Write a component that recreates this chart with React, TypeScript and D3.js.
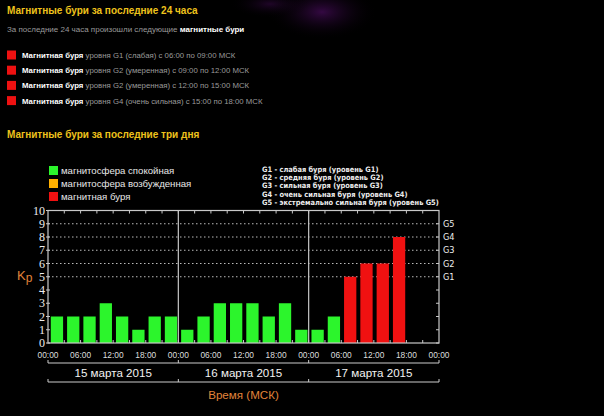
import React from "react";
import * as d3 from "d3";

const dayLabels = ["15 марта 2015", "16 марта 2015", "17 марта 2015"];
const kpValues = [2, 2, 2, 3, 2, 1, 2, 2, 1, 2, 3, 3, 3, 2, 3, 1, 1, 2, 5, 6, 6, 8];
const hourLabels = ["00:00", "06:00", "12:00", "18:00"];
const yTicks = [0, 1, 2, 3, 4, 5, 6, 7, 8, 9, 10];
const gLevels = ["G1", "G2", "G3", "G4", "G5"];
const gValues = [5, 6, 7, 8, 9];
const gDescriptions = [
  "G1 - слабая буря (уровень G1)",
  "G2 - средняя буря (уровень G2)",
  "G3 - сильная буря (уровень G3)",
  "G4 - очень сильная буря (уровень G4)",
  "G5 - экстремально сильная буря (уровень G5)",
];
const legendLabels = ["магнитосфера спокойная", "магнитосфера возбужденная", "магнитная буря"];
const legendColors = ["#2cf52c", "#ffb000", "#f01111"];
const stormLevels = ["G1 (слабая)", "G2 (умеренная)", "G2 (умеренная)", "G4 (очень сильная)"];
const stormFrom = ["06:00", "09:00", "12:00", "15:00"];
const stormTo = ["09:00", "12:00", "15:00", "18:00"];

const W = 604;
const H = 416;

export default function App() {
  const x = d3.scaleLinear().domain([0, 72]).range([48, 439]);
  const y = d3.scaleLinear().domain([0, 10]).range([343, 210.5]);
  const slot = x(3) - x(0);
  const color = (v: number) => (v >= 5 ? legendColors[2] : v >= 4 ? legendColors[1] : legendColors[0]);
  const sans = "'Liberation Sans', Arial, sans-serif";
  const yellow = "#eec21c";
  const gray = "#9a9a9a";
  const frame = "#c8c8c8";
  const orange = "#e0843a";
  const threeHourTicks = d3.range(1, 24);
  const sixHour = d3.range(0, 13);

  return (
    <svg width={W} height={H} style={{ position: "absolute", left: 0, top: 0, background: "#000" }}>
      <defs>
        <radialGradient id="glow" cx="0.5" cy="0.5" r="0.5">
          <stop offset="0%" stopColor="#3a0a4a" stopOpacity={0.9} />
          <stop offset="100%" stopColor="#000" stopOpacity={0} />
        </radialGradient>
      </defs>
      <rect width={W} height={H} fill="#000" />
      <ellipse cx={322} cy={12} rx={55} ry={28} fill="url(#glow)" />
      <ellipse cx={270} cy={4} rx={40} ry={14} fill="url(#glow)" opacity={0.6} />

      {/* Header */}
      <text x={7} y={13.5} fill={yellow} fontFamily={sans} fontWeight="bold" fontSize={10}>
        Магнитные бури за последние 24 часа
      </text>
      <text x={7} y={32} fill={gray} fontFamily={sans} fontSize={8}>
        За последние 24 часа произошли следующие <tspan fill="#fff" fontWeight="bold">магнитные бури</tspan>
      </text>
      {stormLevels.map((lvl, i) => {
        const cy = 55 + i * 15.2;
        return (
          <g key={i}>
            <rect x={7} y={cy - 4.5} width={9} height={9} fill="#ee1111" />
            <text x={22} y={cy + 3} fontFamily={sans} fontSize={7.8} fill={gray}>
              <tspan fill="#fff" fontWeight="bold">Магнитная буря</tspan> уровня  {lvl} с {stormFrom[i]} по {stormTo[i]} МСК
            </text>
          </g>
        );
      })}
      <text x={7} y={138} fill={yellow} fontFamily={sans} fontWeight="bold" fontSize={10}>
        Магнитные бури за последние три дня
      </text>

      {/* Left legend */}
      {legendLabels.map((lab, i) => (
        <g key={lab}>
          <rect x={49} y={166 + i * 13} width={9} height={9} fill={legendColors[i]} />
          <text x={61} y={174 + i * 13} fill="#e8e8e8" fontFamily={sans} fontSize={9.6}>
            {lab}
          </text>
        </g>
      ))}
      {/* Right legend */}
      {gDescriptions.map((d, i) => (
        <text key={d} x={262} y={172 + i * 8.2} fill="#eee" fontFamily="'DejaVu Sans Condensed', 'DejaVu Sans', sans-serif" fontWeight="bold" fontSize={7.4}>
          {d}
        </text>
      ))}

      {/* Gridlines */}
      {gValues.map((v) => (
        <line key={v} x1={x(0)} x2={x(72)} y1={y(v)} y2={y(v)} stroke="#bbb" strokeWidth={1} strokeDasharray="1.5,2.5" />
      ))}

      {/* Bars */}
      {kpValues.map((v, i) => (
        <rect key={i} x={x(i * 3) + 2.8} y={y(v)} width={slot - 4} height={y(0) - y(v)} fill={color(v)} />
      ))}

      {/* Frame */}
      <rect x={x(0)} y={y(10)} width={x(72) - x(0)} height={y(0) - y(10)} fill="none" stroke={frame} strokeWidth={1.2} />
      {[24, 48].map((h) => (
        <line key={h} x1={x(h)} x2={x(h)} y1={y(10)} y2={y(0)} stroke={frame} strokeWidth={1.2} />
      ))}
      {threeHourTicks.map((k) => (
        <g key={k}>
          <line x1={x(k * 3)} x2={x(k * 3)} y1={y(10)} y2={y(10) + 3} stroke={frame} />
          <line x1={x(k * 3)} x2={x(k * 3)} y1={y(0)} y2={y(0) - 3} stroke={frame} />
        </g>
      ))}
      {yTicks.map((v) => (
        <g key={v}>
          <line x1={x(0) - 2} x2={x(0) + 2} y1={y(v)} y2={y(v)} stroke={frame} />
          <line x1={x(72) - 3} x2={x(72)} y1={y(v)} y2={y(v)} stroke={frame} />
          <text x={45} y={y(v) + 4} textAnchor="end" fill="#eee" fontFamily="'Liberation Serif', 'DejaVu Serif', serif" fontSize={12}>
            {v}
          </text>
        </g>
      ))}
      {gLevels.map((g, i) => (
        <text key={g} x={443} y={y(gValues[i]) + 3} fill="#eee" fontFamily="'DejaVu Sans', sans-serif" fontSize={8.2}>
          {g}
        </text>
      ))}
      <text x={17} y={280} fill={orange} fontFamily={sans} fontSize={13}>
        K<tspan fontSize={12} dy={2}>p</tspan>
      </text>

      {/* X labels */}
      {sixHour.map((k) => (
        <text key={k} x={x(k * 6)} y={357.5} textAnchor="middle" fill="#ddd" fontFamily={sans} fontSize={8.4}>
          {hourLabels[k % 4]}
        </text>
      ))}

      {/* Date brackets */}
      {[363, 382].map((yy) => (
        <g key={yy}>
          <line x1={x(0)} x2={x(72)} y1={yy} y2={yy} stroke="#ccc" />
          {[0, 24, 48, 72].map((h) => (
            <line key={h} x1={x(h)} x2={x(h)} y1={yy} y2={yy - 3} stroke="#ccc" />
          ))}
        </g>
      ))}
      {dayLabels.map((d, i) => (
        <text key={d} x={x(i * 24 + 12)} y={377} textAnchor="middle" fill="#f2f2f2" fontFamily={sans} fontSize={11.6}>
          {d}
        </text>
      ))}
      <text x={x(36)} y={399} textAnchor="middle" fill={orange} fontFamily={sans} fontSize={11.6}>
        Время (МСК)
      </text>
    </svg>
  );
}
